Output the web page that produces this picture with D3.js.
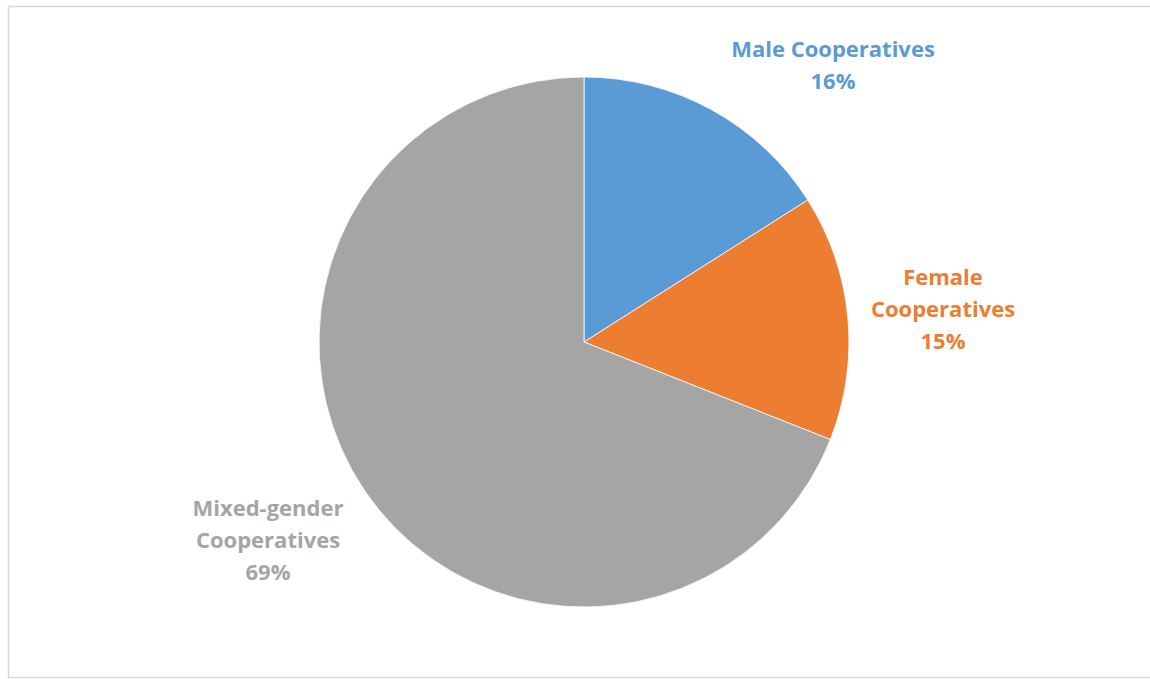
<!DOCTYPE html>
<html lang="en">
<head>
    <meta charset="UTF-8">
    <title>Cooperatives by gender</title>
    <script src="https://d3js.org/d3.v7.min.js"></script>
    <style>
        body { margin: 0; background: #fff; }
        svg { display: block; }
        .label { font-family: "Open Sans", sans-serif; font-weight: bold; font-size: 22px; }
    </style>
</head>
<body>
    <svg id="chart" width="1150" height="679"></svg>

    <script>
        const width = 1150, height = 679;

        // data
        const categories = ["Male Cooperatives", "Female Cooperatives", "Mixed-gender Cooperatives"];
        const values = [16, 15, 69];
        const colors = ["#5B9BD5", "#ED7D31", "#A5A5A5"];
        // label lines as they wrap in the chart
        const labelLines = [
            ["Male Cooperatives", "16%"],
            ["Female", "Cooperatives", "15%"],
            ["Mixed-gender", "Cooperatives", "69%"]
        ];

        const svg = d3.select("#chart");

        // frame
        svg.append("rect")
            .attr("x", 8.5).attr("y", 6.5)
            .attr("width", 1160).attr("height", 671)
            .attr("fill", "none")
            .attr("stroke", "#D9D9D9")
            .attr("stroke-width", 1.5);

        const cx = 584, cy = 342, radius = 265;
        const data = categories.map((c, i) => ({ name: c, value: values[i], color: colors[i], lines: labelLines[i] }));

        const pie = d3.pie().value(d => d.value).sort(null);
        const arc = d3.arc().innerRadius(0).outerRadius(radius);
        const arcs = pie(data);

        const g = svg.append("g").attr("transform", `translate(${cx},${cy})`);

        g.selectAll("path")
            .data(arcs)
            .join("path")
            .attr("d", arc)
            .attr("fill", d => d.data.color)
            .attr("stroke", "#fff")
            .attr("stroke-width", 0.8);

        // label offsets from pie centre (centre x, first baseline y)
        const labelPos = [[249, -285], [359, -57], [-316, 174]];
        const lineH = 32;

        const labels = g.selectAll("text.label")
            .data(arcs)
            .join("text")
            .attr("class", "label")
            .attr("text-anchor", "middle")
            .attr("fill", d => d.data.color)
            .attr("transform", (d, i) => `translate(${labelPos[i][0]},${labelPos[i][1]})`);

        labels.each(function (d) {
            d3.select(this).selectAll("tspan")
                .data(d.data.lines)
                .join("tspan")
                .attr("x", 0)
                .attr("y", (t, j) => j * lineH)
                .text(t => t);
        });
    </script>
</body>
</html>
